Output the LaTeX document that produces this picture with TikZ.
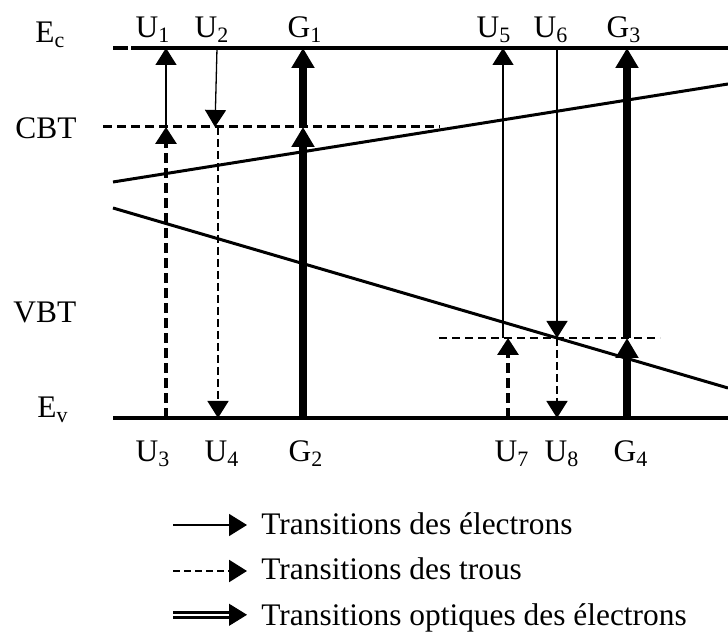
\documentclass[tikz,border=0pt]{standalone}
\usepackage{fontspec}
\setmainfont{Liberation Serif}
\usetikzlibrary{arrows.meta}
\begin{document}
\begin{tikzpicture}[x=0.5pt,y=-0.5pt,
  lbl/.style={font=\fontsize{15.7}{18}\selectfont, inner sep=0pt, anchor=base},
  lblw/.style={font=\fontsize{15.7}{18}\selectfont, inner sep=0pt, anchor=base west},
  band/.style={line width=2pt},
  tail/.style={line width=1.5pt},
  lvlA/.style={line width=1.5pt, dash pattern=on 4.5pt off 2.5pt},
  lvlB/.style={line width=0.8pt, dash pattern=on 4pt off 2.5pt},
  elec/.style={line width=0.65pt, -{Triangle[length=8.5pt,width=10.5pt]}},
  holeA/.style={line width=1.6pt, dash pattern=on 5pt off 2.5pt, -{Triangle[length=8.5pt,width=10.5pt]}},
  holeB/.style={line width=0.8pt, dash pattern=on 4pt off 2pt, -{Triangle[length=8.5pt,width=10.5pt]}},
  opt/.style={line width=4pt, -{Triangle[length=10pt,width=11pt]}},
  legtip/.style={-{Triangle[length=9pt,width=11pt]}},
]
\useasboundingbox (0,0) rectangle (728,635);

% band edges
\coordinate (ecL) at (113,48); \coordinate (ecG1) at (128,48);
\coordinate (ecG2) at (131,48); \coordinate (ecR) at (728,48);
\coordinate (evL) at (113,418); \coordinate (evR) at (728,418);
\draw[band] (ecL) -- (ecG1);
\draw[band] (ecG2) -- (ecR);
\draw[band] (evL) -- (evR);

% band tails
\coordinate (cbA) at (113,182); \coordinate (cbB) at (728,84);
\coordinate (vbA) at (113,208); \coordinate (vbB) at (728,388);
\draw[tail] (cbA) -- (cbB);
\draw[tail] (vbA) -- (vbB);

% tail levels
\coordinate (cbtL) at (103,127); \coordinate (cbtR) at (440,127);
\coordinate (vbtL) at (439,338); \coordinate (vbtR) at (660,338);
\draw[lvlA] (cbtL) -- (cbtR);
\draw[lvlB] (vbtL) -- (vbtR);

% transition end points
\coordinate (u1b) at (166,127); \coordinate (u1t) at (166,48);
\coordinate (u3b) at (166,418); \coordinate (u3t) at (166,127);
\coordinate (u2t) at (217,48);  \coordinate (u2b) at (215,127);
\coordinate (u4t) at (218,127); \coordinate (u4b) at (218,418);
\coordinate (g2b) at (303,418); \coordinate (g2t) at (303,127);
\coordinate (g1t) at (303,48);
\coordinate (u5b) at (503,338); \coordinate (u5t) at (503,48);
\coordinate (u7b) at (508,418); \coordinate (u7t) at (508,338);
\coordinate (u6t) at (557,48);  \coordinate (u6b) at (557,338);
\coordinate (u8b) at (557,418);
\coordinate (g4b) at (627,418); \coordinate (g4t) at (627,338);
\coordinate (g3t) at (627,48);

\draw[elec] (u1b) -- (u1t);
\draw[holeA] (u3b) -- (u3t);
\draw[elec] (u2t) -- (u2b);
\draw[holeB] (u4t) -- (u4b);
\draw[opt] (g2b) -- (g2t);
\draw[opt] (g2t) -- (g1t);
\draw[elec] (u5b) -- (u5t);
\draw[holeA] (u7b) -- (u7t);
\draw[elec] (u6t) -- (u6b);
\draw[holeB] (u6b) -- (u8b);
\draw[opt] (g4b) -- (g4t);
\draw[opt] (g4t) -- (g3t);

% level labels
\node[lblw] (lEc) at (35,43) {E\textsubscript{c}};
\node[lblw] (lCBT) at (15,139) {CBT};
\node[lblw] (lVBT) at (13,323) {VBT};
\node[lblw] (lEv) at (37,418) {E\textsubscript{v}};

% transition labels
\node[lbl] (lU1) at (153,38) {U\textsubscript{1}};
\node[lbl] (lU2) at (212,38) {U\textsubscript{2}};
\node[lbl] (lG1) at (305,38) {G\textsubscript{1}};
\node[lbl] (lU5) at (494,38) {U\textsubscript{5}};
\node[lbl] (lU6) at (551,38) {U\textsubscript{6}};
\node[lbl] (lG3) at (624,38) {G\textsubscript{3}};
\node[lbl] (lU3) at (153,462) {U\textsubscript{3}};
\node[lbl] (lU4) at (222,462) {U\textsubscript{4}};
\node[lbl] (lG2) at (306,462) {G\textsubscript{2}};
\node[lbl] (lU7) at (512,462) {U\textsubscript{7}};
\node[lbl] (lU8) at (562,462) {U\textsubscript{8}};
\node[lbl] (lG4) at (631,462) {G\textsubscript{4}};

% legend
\coordinate (k1a) at (173,525); \coordinate (k1b) at (247,525);
\coordinate (k2a) at (173,571); \coordinate (k2b) at (247,571);
\coordinate (k3a) at (173,612.3); \coordinate (k3b) at (232,612.3);
\coordinate (k3c) at (173,617.3); \coordinate (k3d) at (232,617.3);
\coordinate (k3e) at (229,614.8); \coordinate (k3f) at (247,614.8);
\draw[line width=0.75pt, legtip] (k1a) -- (k1b);
\draw[line width=1.2pt, dash pattern=on 3.5pt off 2pt, legtip] (k2a) -- (k2b);
\draw[line width=1.3pt] (k3a) -- (k3b);
\draw[line width=1.3pt] (k3c) -- (k3d);
\draw[line width=0.5pt, legtip] (k3e) -- (k3f);
\node[lblw] (t1) at (261,535) {Transitions des électrons};
\node[lblw] (t2) at (261,580) {Transitions des trous};
\node[lblw] (t3) at (261,625) {Transitions optiques des électrons};
\end{tikzpicture}
\end{document}
